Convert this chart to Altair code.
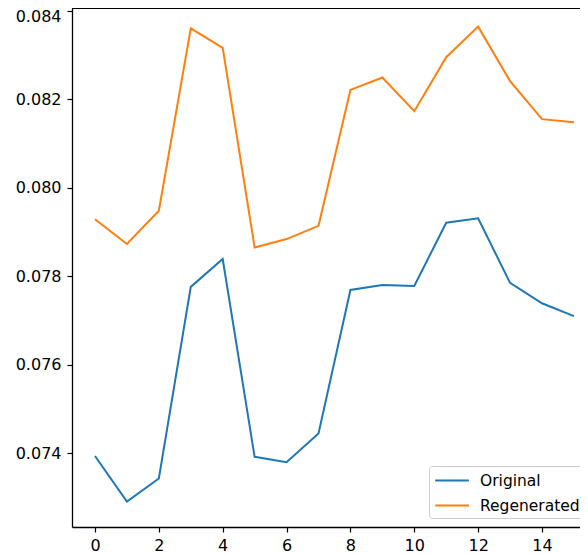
import altair as alt
import pandas as pd

steps = list(range(16))
original = [0.07394, 0.07291, 0.07343, 0.07776, 0.07839, 0.07392, 0.07380, 0.07445,
            0.07769, 0.07780, 0.07778, 0.07921, 0.07931, 0.07785, 0.07739, 0.07710]
regenerated = [0.07929, 0.07873, 0.07948, 0.08360, 0.08316, 0.07865, 0.07884, 0.07914,
               0.08221, 0.08249, 0.08173, 0.08295, 0.08364, 0.08241, 0.08155, 0.08148]
series_names = ["Original", "Regenerated"]
series_colors = ["#1f77b4", "#ff7f0e"]
x_ticks = [0, 2, 4, 6, 8, 10, 12, 14]
y_ticks = [0.074, 0.076, 0.078, 0.080, 0.082, 0.084]

df = pd.DataFrame({
    "step": steps * 2,
    "value": original + regenerated,
    "series": ["Original"] * len(steps) + ["Regenerated"] * len(steps),
})

W, H = 508, 519
FONT = "DejaVu Sans"

lines = alt.Chart(df).mark_line(strokeWidth=2, clip=True).encode(
    x=alt.X("step:Q", scale=alt.Scale(domain=[-0.72, 15.19], nice=False, zero=False),
            axis=alt.Axis(values=x_ticks, title=None, grid=False, format="d",
                          tickSize=5, labelPadding=5, domainColor="#000", tickColor="#000",
                          labelColor="#000", labelFont=FONT, labelFontSize=16,
                          domainWidth=1.3, tickWidth=1.2)),
    y=alt.Y("value:Q", scale=alt.Scale(domain=[0.072335, 0.084061], nice=False, zero=False),
            axis=alt.Axis(values=y_ticks, title=None, grid=False, format=".3f",
                          tickSize=5, labelPadding=6, domainColor="#000", tickColor="#000",
                          labelColor="#000", labelFont=FONT, labelFontSize=16,
                          labelOffset=alt.condition("datum.value > 0.0839", alt.value(6), alt.value(0)),
                          domainWidth=1.3, tickWidth=1.2)),
    color=alt.Color("series:N", scale=alt.Scale(domain=series_names, range=series_colors),
                    legend=alt.Legend(title=None, orient="none", legendX=357, legendY=458,
                                      symbolType="M-0.89,0H2.73", symbolSize=346,
                                      symbolStrokeWidth=2,
                                      labelFont=FONT, labelFontSize=15.5, labelColor="#000",
                                      labelOffset=26, padding=4, rowPadding=6,
                                      strokeColor="#cccccc", fillColor="white",
                                      cornerRadius=3)),
)

top_spine = alt.Chart(df).mark_rule(color="#000", strokeWidth=1.3).encode(
    x=alt.value(0), x2=alt.value(W), y=alt.value(0)
)

chart = alt.layer(lines, top_spine).properties(
    width=W, height=H,
    padding={"left": 64, "top": 0, "right": 0, "bottom": 26},
    autosize=alt.AutoSizeParams(type="none"),
).configure_view(stroke=None)

chart.save("out.html", embed_options={"renderer": "svg", "actions": False})
